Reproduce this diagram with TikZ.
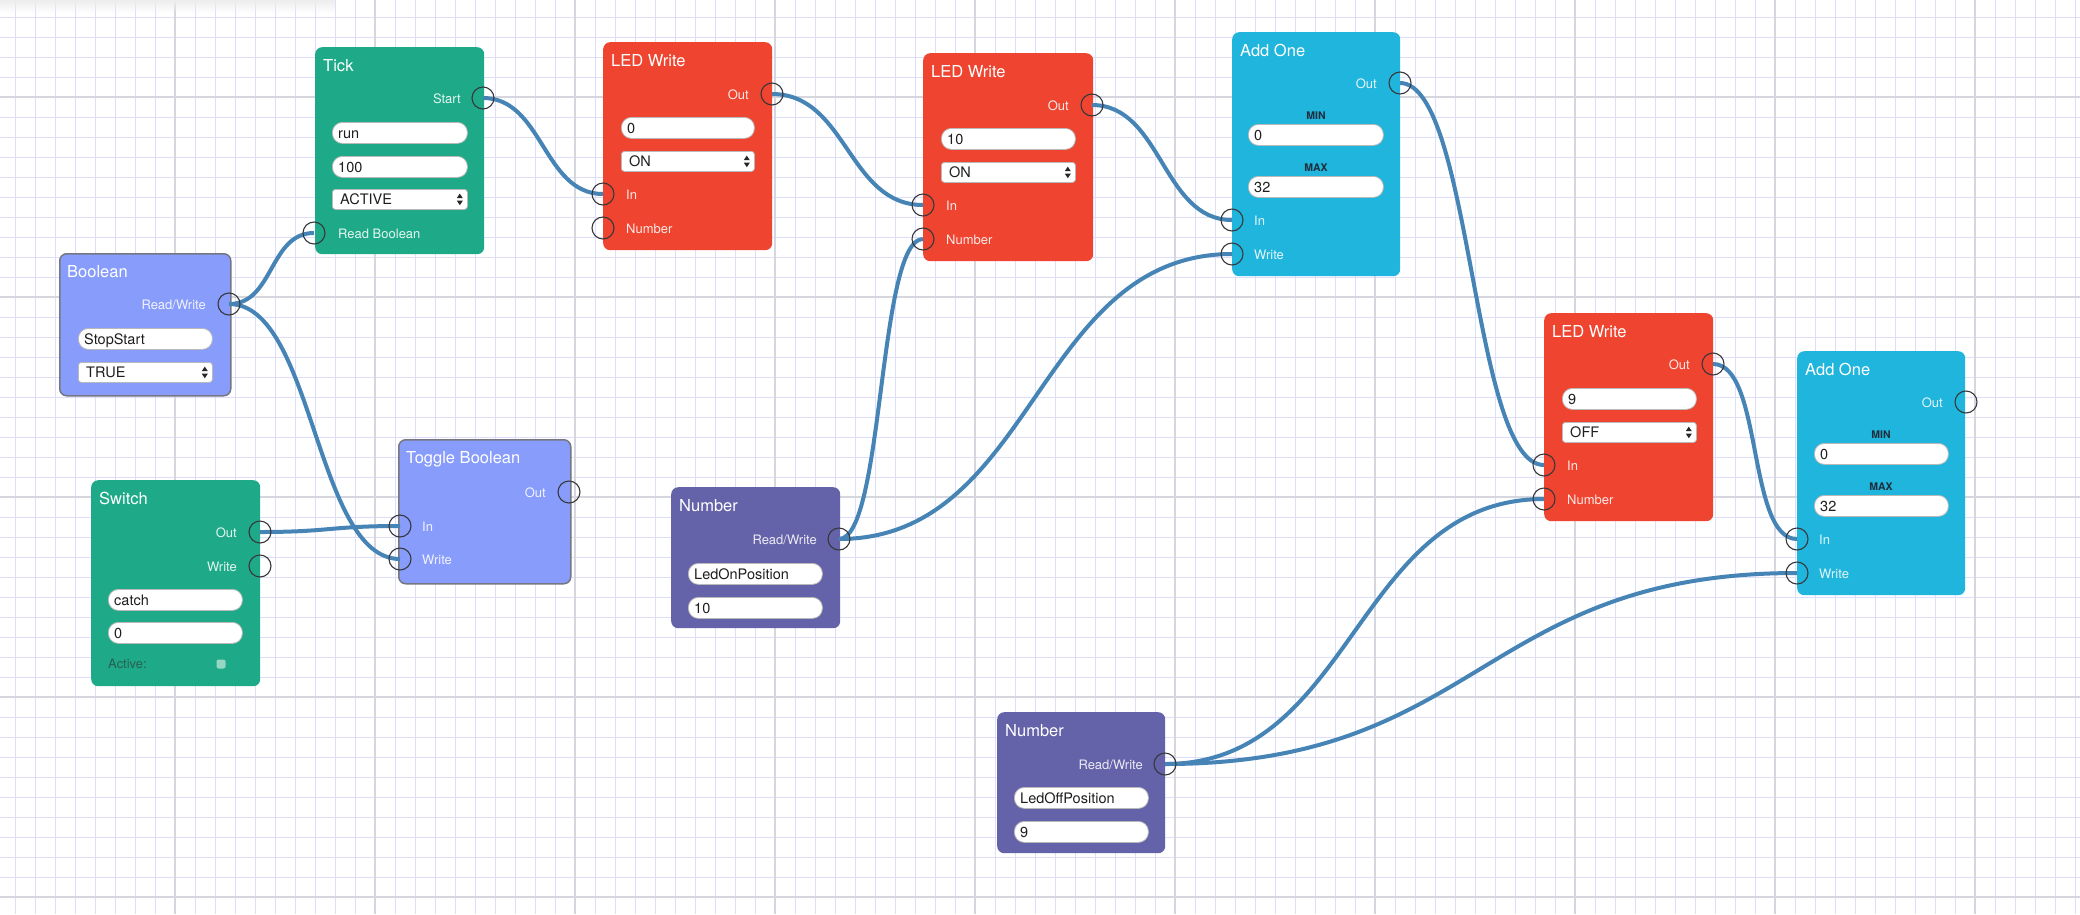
\documentclass[tikz,border=0pt]{standalone}
\usepackage{fontspec}
\setmainfont{TeX Gyre Heros}
\usetikzlibrary{calc,fadings}
\definecolor{boolc}{RGB}{136,156,252}
\definecolor{boolborder}{RGB}{118,118,130}
\definecolor{greenc}{RGB}{30,170,136}
\definecolor{redc}{RGB}{238,68,48}
\definecolor{cyanc}{RGB}{32,181,220}
\definecolor{purplec}{RGB}{100,98,168}
\definecolor{wirec}{RGB}{70,132,182}
\definecolor{minorc}{RGB}{222,222,250}
\definecolor{majorc}{RGB}{214,214,222}
\definecolor{portc}{RGB}{55,55,60}
\definecolor{fieldborder}{RGB}{185,185,185}
\definecolor{fieldtext}{RGB}{30,30,30}
\definecolor{minmaxc}{RGB}{30,45,60}
\definecolor{activec}{RGB}{40,95,80}
\definecolor{activesq}{RGB}{150,215,195}
\pgfdeclarelayer{gridl}
\pgfdeclarelayer{boxl}
\pgfdeclarelayer{wirel}
\pgfsetlayers{gridl,boxl,wirel,main}
\tikzset{
  blockbox/.style={rounded corners=7pt, inner sep=0pt, anchor=north west},
  titletext/.style={anchor=base west, inner sep=0pt, text=white, font=\fontsize{16.5}{18}\selectfont},
  plabelR/.style={anchor=base east, inner sep=0pt, text=white, text opacity=0.88, font=\fontsize{13}{15}\selectfont},
  plabelL/.style={anchor=base west, inner sep=0pt, text=white, text opacity=0.88, font=\fontsize{13}{15}\selectfont},
  portcirc/.style={circle, draw=portc, line width=1.1pt, minimum size=22pt, inner sep=0pt},
  fieldbox/.style={draw=fieldborder, fill=white, rounded corners=10pt, line width=0.8pt, inner sep=0pt, anchor=north west},
  selbox/.style={draw=fieldborder, fill=white, rounded corners=3pt, line width=0.8pt, inner sep=0pt, anchor=north west},
  fieldtxt/.style={anchor=base west, inner sep=0pt, text=fieldtext, font=\fontsize{14.5}{16}\selectfont},
  mmlabel/.style={anchor=base, inner sep=0pt, text=minmaxc, font=\bfseries\fontsize{10.5}{12}\selectfont},
  wire/.style={draw=wirec, line width=4pt},
}
\newcommand{\mkfield}[5]{%
  \node[fieldbox, minimum width=#4pt, minimum height=21pt] (#1) at (#2,#3) {};
  \node[fieldtxt] (#1-t) at ($(#1.west)+(6pt,-5.5pt)$) {#5};
}
\newcommand{\mkselect}[5]{%
  \node[selbox, minimum width=#4pt, minimum height=20pt] (#1) at (#2,#3) {};
  \node[fieldtxt] (#1-t) at ($(#1.west)+(8pt,-5.5pt)$) {#5};
  \coordinate (#1-a) at ($(#1.east)+(-8pt,0pt)$);
  \fill[black!85] ($(#1-a)+(-3pt,1.3pt)$) -- ($(#1-a)+(3pt,1.3pt)$) -- ($(#1-a)+(0pt,5.8pt)$) -- cycle;
  \fill[black!85] ($(#1-a)+(-3pt,-1.3pt)$) -- ($(#1-a)+(3pt,-1.3pt)$) -- ($(#1-a)+(0pt,-5.8pt)$) -- cycle;
}
\newcommand{\mkport}[3]{\node[portcirc] (#1) at (#2,#3) {};}
\begin{document}
\begin{tikzpicture}[x=1pt,y=-1pt]
\useasboundingbox (0,0) rectangle (2080,914);
% ---------------- grid
\begin{pgfonlayer}{gridl}
\fill[white] (0,0) rectangle (2080,914);
\foreach \x in {15,35,...,2075} \draw[minorc, line width=1pt] (\x,0) -- (\x,914);
\foreach \y in {17,37,...,897} \draw[minorc, line width=1pt] (0,\y) -- (2080,\y);
\foreach \x in {175,375,...,1975} \draw[majorc, line width=2pt] (\x,0) -- (\x,914);
\foreach \y in {97,297,...,897} \draw[majorc, line width=2pt] (0,\y) -- (2080,\y);
\fill[white!93!black, path fading=south] (0,0) rectangle (335,13);
\end{pgfonlayer}
% ---------------- blocks
\begin{pgfonlayer}{boxl}
% Boolean
\node[blockbox, fill=boolc, draw=boolborder, line width=1.5pt, minimum width=171pt, minimum height=142pt] (boolean) at (59,253) {};
\node[titletext] (boolean-title) at (67,277) {Boolean};
\node[plabelR] (boolean-rwl) at (206,309) {Read/Write};
\mkfield{boolean-name}{78}{328}{134}{StopStart}
\mkselect{boolean-val}{78}{362}{134}{TRUE}
% Tick
\node[blockbox, fill=greenc, minimum width=169pt, minimum height=207pt] (tick) at (315,47) {};
\node[titletext] (tick-title) at (323,71) {Tick};
\node[plabelR] (tick-startl) at (461,103) {Start};
\mkfield{tick-name}{332}{122}{135}{run}
\mkfield{tick-ms}{332}{156}{135}{100}
\mkselect{tick-mode}{332}{189}{135}{ACTIVE}
\node[plabelL] (tick-rbl) at (338,238) {Read Boolean};
% Switch
\node[blockbox, fill=greenc, minimum width=169pt, minimum height=206pt] (switch) at (91,480) {};
\node[titletext] (switch-title) at (99,504) {Switch};
\node[plabelR] (switch-outl) at (237,537) {Out};
\node[plabelR] (switch-writel) at (237,571) {Write};
\mkfield{switch-name}{108}{589}{134}{catch}
\mkfield{switch-val}{108}{622}{134}{0}
\node[anchor=base west, inner sep=0pt, text=activec, font=\fontsize{13}{15}\selectfont] (switch-active) at (108,668) {Active:};
\node[fill=activesq, rounded corners=2pt, minimum size=9pt, inner sep=0pt] (switch-sq) at (221,664) {};
% Toggle Boolean
\node[blockbox, fill=boolc, draw=boolborder, line width=1.5pt, minimum width=172pt, minimum height=144pt] (toggle) at (398,439) {};
\node[titletext] (toggle-title) at (406,463) {Toggle Boolean};
\node[plabelR] (toggle-outl) at (546,497) {Out};
\node[plabelL] (toggle-inl) at (422,531) {In};
\node[plabelL] (toggle-writel) at (422,564) {Write};
% LED Write 1
\node[blockbox, fill=redc, minimum width=169pt, minimum height=208pt] (led1) at (603,42) {};
\node[titletext] (led1-title) at (611,66) {LED Write};
\node[plabelR] (led1-outl) at (749,99) {Out};
\mkfield{led1-num}{621}{117}{133}{0}
\mkselect{led1-st}{621}{151}{133}{ON}
\node[plabelL] (led1-inl) at (626,199) {In};
\node[plabelL] (led1-numl) at (626,233) {Number};
% LED Write 2
\node[blockbox, fill=redc, minimum width=170pt, minimum height=208pt] (led2) at (923,53) {};
\node[titletext] (led2-title) at (931,77) {LED Write};
\node[plabelR] (led2-outl) at (1069,110) {Out};
\mkfield{led2-num}{941}{128}{134}{10}
\mkselect{led2-st}{941}{162}{134}{ON}
\node[plabelL] (led2-inl) at (946,210) {In};
\node[plabelL] (led2-numl) at (946,244) {Number};
% Add One 1
\node[blockbox, fill=cyanc, minimum width=168pt, minimum height=244pt] (add1) at (1232,32) {};
\node[titletext] (add1-title) at (1240,56) {Add One};
\node[plabelR] (add1-outl) at (1377,88) {Out};
\node[mmlabel] (add1-minl) at (1316,119) {MIN};
\mkfield{add1-min}{1248}{124}{135}{0}
\node[mmlabel] (add1-maxl) at (1316,171) {MAX};
\mkfield{add1-max}{1248}{176}{135}{32}
\node[plabelL] (add1-inl) at (1254,225) {In};
\node[plabelL] (add1-writel) at (1254,259) {Write};
% Number 1
\node[blockbox, fill=purplec, minimum width=169pt, minimum height=141pt] (num1) at (671,487) {};
\node[titletext] (num1-title) at (679,511) {Number};
\node[plabelR] (num1-rwl) at (817,544) {Read/Write};
\mkfield{num1-name}{688}{563}{134}{LedOnPosition}
\mkfield{num1-val}{688}{597}{134}{10}
% LED Write 3
\node[blockbox, fill=redc, minimum width=169pt, minimum height=208pt] (led3) at (1544,313) {};
\node[titletext] (led3-title) at (1552,337) {LED Write};
\node[plabelR] (led3-outl) at (1690,369) {Out};
\mkfield{led3-num}{1562}{388}{134}{9}
\mkselect{led3-st}{1562}{422}{134}{OFF}
\node[plabelL] (led3-inl) at (1567,470) {In};
\node[plabelL] (led3-numl) at (1567,504) {Number};
% Add One 2
\node[blockbox, fill=cyanc, minimum width=168pt, minimum height=244pt] (add2) at (1797,351) {};
\node[titletext] (add2-title) at (1805,375) {Add One};
\node[plabelR] (add2-outl) at (1943,407) {Out};
\node[mmlabel] (add2-minl) at (1881,438) {MIN};
\mkfield{add2-min}{1814}{443}{134}{0}
\node[mmlabel] (add2-maxl) at (1881,490) {MAX};
\mkfield{add2-max}{1814}{495}{134}{32}
\node[plabelL] (add2-inl) at (1819,544) {In};
\node[plabelL] (add2-writel) at (1819,578) {Write};
% Number 2
\node[blockbox, fill=purplec, minimum width=168pt, minimum height=141pt] (num2) at (997,712) {};
\node[titletext] (num2-title) at (1005,736) {Number};
\node[plabelR] (num2-rwl) at (1143,769) {Read/Write};
\mkfield{num2-name}{1014}{787}{134}{LedOffPosition}
\mkfield{num2-val}{1014}{821}{134}{9}
\end{pgfonlayer}
% ---------------- ports
\mkport{p-bool-rw}{229}{304}
\mkport{p-tick-start}{483}{98}
\mkport{p-tick-rb}{314}{233}
\mkport{p-sw-out}{260}{532}
\mkport{p-sw-write}{260}{566}
\mkport{p-tg-out}{569}{492}
\mkport{p-tg-in}{400}{526}
\mkport{p-tg-write}{400}{559}
\mkport{p-l1-out}{772}{94}
\mkport{p-l1-in}{603}{194}
\mkport{p-l1-num}{603}{228}
\mkport{p-l2-out}{1092}{105}
\mkport{p-l2-in}{923}{205}
\mkport{p-l2-num}{923}{239}
\mkport{p-a1-out}{1400}{83}
\mkport{p-a1-in}{1232}{220}
\mkport{p-a1-write}{1232}{254}
\mkport{p-n1-rw}{839}{539}
\mkport{p-l3-out}{1713}{364}
\mkport{p-l3-in}{1544}{465}
\mkport{p-l3-num}{1544}{499}
\mkport{p-a2-out}{1966}{402}
\mkport{p-a2-in}{1797}{539}
\mkport{p-a2-write}{1797}{573}
\mkport{p-n2-rw}{1165}{764}
% ---------------- wires
\begin{pgfonlayer}{wirel}
\draw[wire] (p-bool-rw.center) .. controls +(45,0) and +(-45,0) .. (p-tick-rb.center);
\draw[wire] (p-bool-rw.center) .. controls +(85,0) and +(-85,0) .. (p-tg-write.center);
\draw[wire] (p-sw-out.center) .. controls +(70,0) and +(-70,0) .. (p-tg-in.center);
\draw[wire] (p-tick-start.center) .. controls +(60,0) and +(-60,0) .. (p-l1-in.center);
\draw[wire] (p-l1-out.center) .. controls +(75,0) and +(-75,0) .. (p-l2-in.center);
\draw[wire] (p-l2-out.center) .. controls +(70,0) and +(-70,0) .. (p-a1-in.center);
\draw[wire] (p-n1-rw.center) .. controls +(45,0) and +(-45,0) .. (p-l2-num.center);
\draw[wire] (p-n1-rw.center) .. controls +(196,0) and +(-196,0) .. (p-a1-write.center);
\draw[wire] (p-a1-out.center) .. controls +(72,0) and +(-72,0) .. (p-l3-in.center);
\draw[wire] (p-l3-out.center) .. controls +(50,0) and +(-50,0) .. (p-a2-in.center);
\draw[wire] (p-n2-rw.center) .. controls +(190,0) and +(-190,0) .. (p-l3-num.center);
\draw[wire] (p-n2-rw.center) .. controls +(316,0) and +(-316,0) .. (p-a2-write.center);
\end{pgfonlayer}
\end{tikzpicture}
\end{document}
